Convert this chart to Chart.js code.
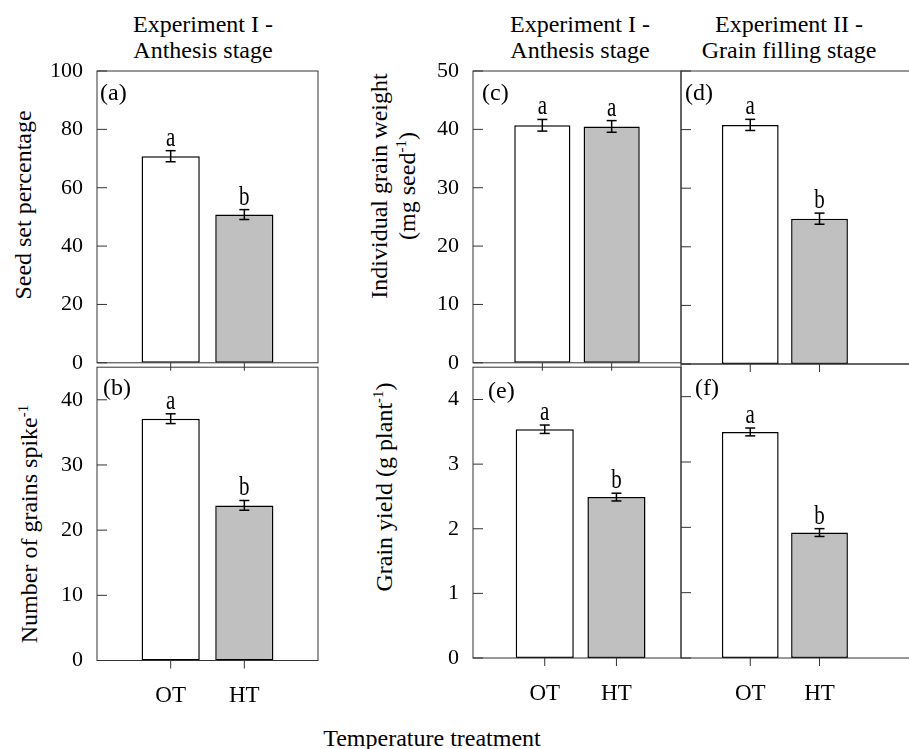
<!DOCTYPE html>
<html>
<head>
<meta charset="utf-8">
<title>Temperature treatment</title>
<script src="https://cdn.jsdelivr.net/npm/chart.js@4.4.1/dist/chart.umd.min.js"></script>
<style>
  body { margin: 0; width: 909px; height: 749px; overflow: hidden; background: #fff; position: relative;
         font-family: 'Liberation Serif', 'Times New Roman', serif; color: #000; }
  canvas { position: absolute; }
  .txt { position: absolute; white-space: nowrap; font-size: 24px; line-height: 1; }
  .head { transform: translateX(-50%); text-align: center; line-height: 26px; }
  .ytitle { transform: translate(-50%, -50%) rotate(-90deg); }
  sup { font-size: 15px; vertical-align: 9px; line-height: 0; }
</style>
</head>
<body>
<div class="txt head" style="left:203px;top:11px">Experiment I -<br>Anthesis stage</div>
<div class="txt head" style="left:580px;top:11px">Experiment I -<br>Anthesis stage</div>
<div class="txt head" style="left:789px;top:11px">Experiment II -<br>Grain filling stage</div>

<div class="txt ytitle" style="left:23px;top:205px">Seed set percentage</div>
<div class="txt ytitle" style="left:29px;top:524px">Number of grains spike<sup>-1</sup></div>
<div class="txt ytitle" style="left:379px;top:186px">Individual grain weight</div>
<div class="txt ytitle" style="left:407px;top:186px">(mg seed<sup>-1</sup>)</div>
<div class="txt ytitle" style="left:384px;top:487px">Grain yield (g plant<sup>-1</sup>)</div>

<div class="txt" style="left:432px;top:726px;transform:translateX(-50%)">Temperature treatment</div>

<canvas id="pa" width="330" height="350" style="left:0;top:40px"></canvas>
<canvas id="pb" width="330" height="409" style="left:0;top:340px"></canvas>
<canvas id="pc" width="280" height="350" style="left:420px;top:40px"></canvas>
<canvas id="pd" width="300" height="350" style="left:640px;top:40px"></canvas>
<canvas id="pe" width="280" height="409" style="left:420px;top:340px"></canvas>
<canvas id="pf" width="300" height="409" style="left:640px;top:340px"></canvas>

<script>
Chart.defaults.font.family = "'Liberation Serif', 'Times New Roman', serif";
Chart.defaults.color = '#000';

// data
const treatments = ['OT', 'HT'];
const barColors = ['#ffffff', '#c0c0c0'];

// (a) seed set percentage, exp I
const seedSet = [70.8, 50.8];
const seedSetErr = [1.9, 1.7];
const seedSetLetters = ['a', 'b'];
const seedSetTicks = [0, 20, 40, 60, 80, 100];

// (b) grains per spike, exp I
const grainsSpike = [37.1, 23.8];
const grainsSpikeErr = [0.75, 0.75];
const grainsSpikeLetters = ['a', 'b'];
const grainsSpikeTicks = [0, 10, 20, 30, 40];

// (c) grain weight, exp I
const weightExp1 = [40.7, 40.5];
const weightExp1Err = [1.0, 1.0];
const weightExp1Letters = ['a', 'a'];
// (d) grain weight, exp II
const weightExp2 = [40.8, 24.8];
const weightExp2Err = [0.95, 0.95];
const weightExp2Letters = ['a', 'b'];
const weightTicks = [0, 10, 20, 30, 40, 50];

// (e) grain yield, exp I
const yieldExp1 = [3.54, 2.49];
const yieldExp1Err = [0.065, 0.06];
const yieldExp1Letters = ['a', 'b'];
// (f) grain yield, exp II
const yieldExp2 = [3.46, 1.92];
const yieldExp2Err = [0.06, 0.06];
const yieldExp2Letters = ['a', 'b'];
const yieldTicks = [0, 1, 2, 3, 4];

// panel layout
const panels = [
  { id: 'pa', tag: '(a)', values: seedSet, errors: seedSetErr, letters: seedSetLetters, yMax: 100, yTicks: seedSetTicks,
    showY: true, showX: false, xMax: 3, barPct: 0.79, top: 31, right: 12, yWidth: 97, xHeight: 23, tagAt: [3, 23] },
  { id: 'pb', tag: '(b)', values: grainsSpike, errors: grainsSpikeErr, letters: grainsSpikeLetters, yMax: 45, yTicks: grainsSpikeTicks,
    showY: true, showX: true, xMax: 3, barPct: 0.79, top: 27, right: 12, yWidth: 97, xHeight: 88.5, tagAt: [6, 22] },
  { id: 'pc', tag: '(c)', values: weightExp1, errors: weightExp1Err, letters: weightExp1Letters, yMax: 50, yTicks: weightTicks,
    showY: true, showX: false, xMax: 3, barPct: 0.81, top: 31, right: 19, yWidth: 53, xHeight: 26, tagAt: [9, 23] },
  { id: 'pd', tag: '(d)', values: weightExp2, errors: weightExp2Err, letters: weightExp2Letters, yMax: 50, yTicks: weightTicks,
    showY: false, showX: false, xMax: 3.35, barPct: 0.82, top: 31, right: 27, yWidth: 41, xHeight: 26, tagAt: [4, 23] },
  { id: 'pe', tag: '(e)', values: yieldExp1, errors: yieldExp1Err, letters: yieldExp1Letters, yMax: 4.5, yTicks: yieldTicks,
    showY: true, showX: true, xMax: 2.9, barPct: 0.81, top: 24, right: 19, yWidth: 53, xHeight: 91, tagAt: [15, 25] },
  { id: 'pf', tag: '(f)', values: yieldExp2, errors: yieldExp2Err, letters: yieldExp2Letters, yMax: 4.5, yTicks: yieldTicks,
    showY: false, showX: true, xMax: 3.35, barPct: 0.82, top: 24, right: 27, yWidth: 41, xHeight: 91, tagAt: [14, 25] }
];

// frame, inward ticks, error bars and letters
const decorPlugin = {
  id: 'decor',
  afterDatasetsDraw(chart, args, opts) {
    const p = opts.panel;
    const { ctx, chartArea: a } = chart;
    const x = chart.scales.x, y = chart.scales.y;
    const line = (x1, y1, x2, y2) => { ctx.beginPath(); ctx.moveTo(x1, y1); ctx.lineTo(x2, y2); ctx.stroke(); };
    ctx.save();

    ctx.strokeStyle = '#000';
    ctx.lineWidth = 1.5;
    ctx.fillStyle = '#000';
    ctx.font = "21px 'Liberation Serif', 'Times New Roman', serif";
    ctx.textAlign = 'center';
    ctx.textBaseline = 'alphabetic';
    chart.getDatasetMeta(0).data.forEach((bar, i) => {
      const v = p.values[i], e = p.errors[i];
      const yHi = y.getPixelForValue(v + e), yLo = y.getPixelForValue(v - e);
      line(bar.x, yHi, bar.x, yLo);
      line(bar.x - 5, yHi, bar.x + 5, yHi);
      line(bar.x - 5, yLo, bar.x + 5, yLo);
      // significance letters are tall and narrow in the original
      ctx.save();
      ctx.translate(bar.x, yHi - 5);
      ctx.scale(1, 1.3);
      ctx.fillText(p.letters[i], 0, 0);
      ctx.restore();
    });

    ctx.strokeStyle = '#333';
    ctx.lineWidth = 1;
    ctx.strokeRect(a.left, a.top, a.right - a.left, a.bottom - a.top);
    y.ticks.forEach(t => {
      const py = y.getPixelForValue(t.value);
      line(a.left, py, a.left + 10, py);
    });
    x.ticks.forEach(t => {
      const px = x.getPixelForValue(t.value);
      line(px, a.bottom, px, a.bottom + 8);
    });

    ctx.font = "24px 'Liberation Serif', 'Times New Roman', serif";
    ctx.textAlign = 'left';
    ctx.textBaseline = 'middle';
    ctx.fillText(p.tag, a.left + p.tagAt[0], a.top + p.tagAt[1]);
    ctx.restore();
  }
};

panels.forEach(p => {
  new Chart(document.getElementById(p.id), {
    type: 'bar',
    data: {
      datasets: [{
        data: treatments.map((t, i) => ({ x: i + 1, y: p.values[i] })),
        backgroundColor: barColors,
        borderColor: '#000',
        borderWidth: 1.5,
        borderSkipped: false,
        barPercentage: 1,
        categoryPercentage: p.barPct
      }]
    },
    options: {
      responsive: false,
      animation: false,
      events: [],
      layout: { padding: { top: p.top, right: p.right, left: 0, bottom: 0 } },
      plugins: { legend: { display: false }, tooltip: { enabled: false }, decor: { panel: p } },
      scales: {
        x: {
          type: 'linear', min: 0, max: p.xMax, offset: false,
          grid: { display: false, drawTicks: false }, border: { display: false },
          afterBuildTicks: s => { s.ticks = treatments.map((t, i) => ({ value: i + 1 })); },
          afterFit: s => { s.height = p.xHeight; },
          ticks: { display: p.showX, padding: 22, maxRotation: 0, font: { size: 23 },
                   callback: v => treatments[v - 1] || '' }
        },
        y: {
          min: 0, max: p.yMax,
          grid: { display: false, drawTicks: false }, border: { display: false },
          afterBuildTicks: s => { s.ticks = p.yTicks.map(v => ({ value: v })); },
          afterFit: s => { s.width = p.yWidth; },
          ticks: { display: p.showY, padding: 14, font: { size: 22 } }
        }
      }
    },
    plugins: [decorPlugin]
  });
});
</script>
</body>
</html>
